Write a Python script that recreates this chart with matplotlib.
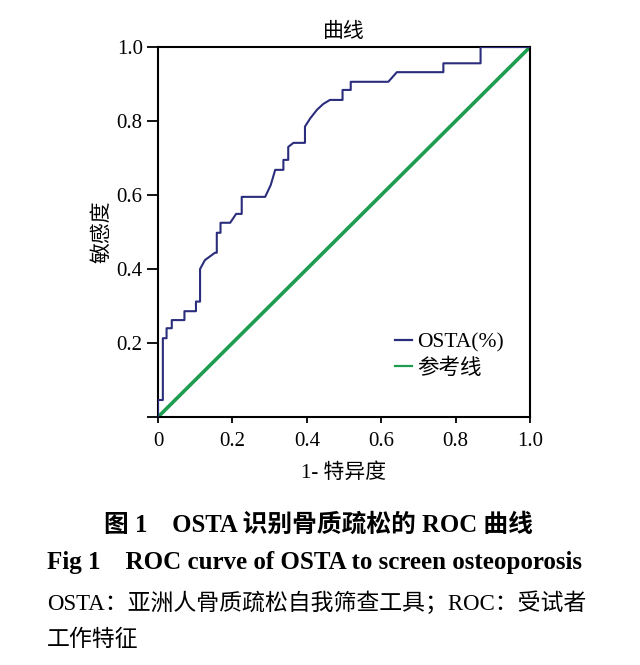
import matplotlib
matplotlib.use('Agg')
import matplotlib.pyplot as plt

plt.rcParams['font.family'] = ['Liberation Serif', 'Noto Sans CJK SC']
plt.rcParams['axes.unicode_minus'] = False

# ROC step curve
fpr = [0, 0, 0.013, 0.013, 0.023, 0.023, 0.037, 0.037, 0.071, 0.071, 0.102, 0.102,
       0.113, 0.113, 0.126, 0.153, 0.158, 0.158, 0.168, 0.168, 0.194, 0.21, 0.225,
       0.225, 0.288, 0.303, 0.315, 0.337, 0.337, 0.35, 0.35, 0.364, 0.395, 0.395,
       0.409, 0.427, 0.444, 0.462, 0.496, 0.496, 0.518, 0.518, 0.619, 0.642, 0.767,
       0.767, 0.867, 0.867, 1.0]
tpr = [0, 0.046, 0.046, 0.213, 0.213, 0.24, 0.24, 0.262, 0.262, 0.286, 0.286, 0.312,
       0.312, 0.40, 0.424, 0.444, 0.444, 0.498, 0.498, 0.525, 0.525, 0.549, 0.549,
       0.595, 0.595, 0.627, 0.668, 0.668, 0.695, 0.695, 0.73, 0.741, 0.741, 0.785,
       0.807, 0.83, 0.846, 0.857, 0.857, 0.884, 0.884, 0.906, 0.906, 0.932, 0.932,
       0.956, 0.956, 1.0, 1.0]
ref_x = [0, 1]
ref_y = [0, 1]

xticks = [0, 0.2, 0.4, 0.6, 0.8, 1.0]
xtick_labels = ['0', '0.2', '0.4', '0.6', '0.8', '1.0']
yticks = [0, 0.2, 0.4, 0.6, 0.8, 1.0]
ytick_labels = ['', '0.2', '0.4', '0.6', '0.8', '1.0']

blue = '#2a2d7c'
green = '#1e9c50'

fig = plt.figure(figsize=(6.4, 6.65), dpi=100)
ax = fig.add_axes([0.2469, 0.3729, 0.5813, 0.5564])

ax.plot(fpr, tpr, color=blue, lw=1.5, label='OSTA(%)', zorder=3)
ax.plot(ref_x, ref_y, color=green, lw=2.6, label='参考线', zorder=2)

ax.set_xlim(0, 1)
ax.set_ylim(0, 1)
ax.set_xticks(xticks)
ax.set_xticklabels(xtick_labels)
ax.set_yticks(yticks)
ax.set_yticklabels(ytick_labels)
ax.tick_params(axis='x', direction='out', length=4.5, width=1.3, labelsize=15, pad=6)
ax.tick_params(axis='y', direction='out', length=8, width=1.3, labelsize=15, pad=3)
for s in ax.spines.values():
    s.set_linewidth(1.5)

ax.set_title('曲线', fontsize=15, pad=7)
ax.set_xlabel('1- 特异度', fontsize=15, labelpad=9)
ax.set_ylabel('敏感度', fontsize=15, labelpad=3)

leg = ax.legend(loc='center left', bbox_to_anchor=(0.637, 0.166), frameon=False,
                fontsize=15.5, handlelength=0.8, handletextpad=0.25, labelspacing=0.25,
                borderpad=0, borderaxespad=0)
for ln in leg.get_lines():
    ln.set_linewidth(1.6)

W, H = 640, 665
fig.text(318 / W, 1 - 525 / H, '图 1　OSTA 识别骨质疏松的 ROC 曲线', ha='center', va='center',
         fontsize=17.8, fontweight='bold')
fig.text(47 / W, 1 - 563 / H, 'Fig 1　ROC curve of OSTA to screen osteoporosis', ha='left',
         va='center', fontsize=18, fontweight='bold')
fig.text(47 / W, 1 - 603 / H, 'OSTA：亚洲人骨质疏松自我筛查工具；ROC：受试者', ha='left',
         va='center', fontsize=16.5)
fig.text(47 / W, 1 - 640 / H, '工作特征', ha='left', va='center', fontsize=16.5)

fig.savefig('out.png', dpi=100)
